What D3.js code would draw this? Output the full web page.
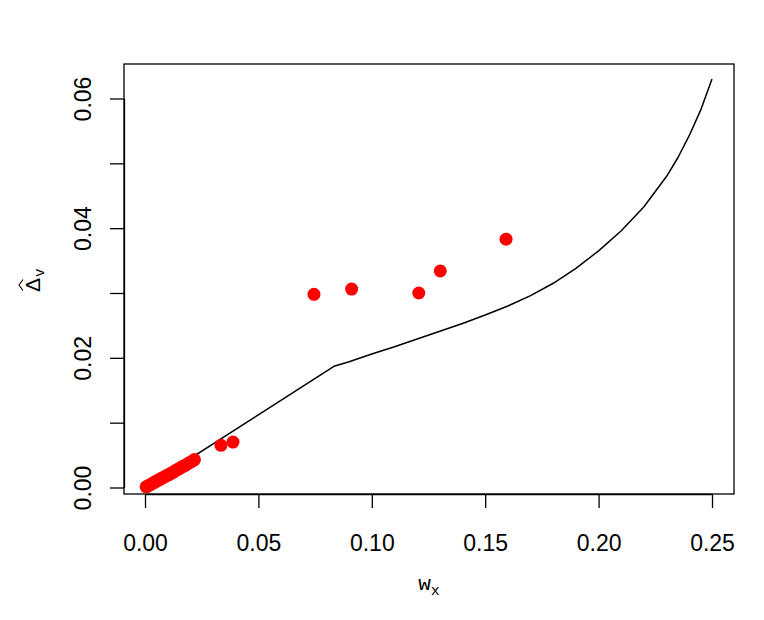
<!DOCTYPE html>
<html><head><meta charset="utf-8">
<script src="https://cdn.jsdelivr.net/npm/d3@7"></script>
<style>body{margin:0;background:#fff}svg{display:block}</style>
</head><body>
<svg id="chart" width="764" height="620"></svg>
<script>
// Data
const xTicks = [0.00, 0.05, 0.10, 0.15, 0.20, 0.25];
const xTickLabels = ["0.00", "0.05", "0.10", "0.15", "0.20", "0.25"];
const yTicks = [0.00, 0.01, 0.02, 0.03, 0.04, 0.05, 0.06];
const yTickLabels = ["0.00", "", "0.02", "", "0.04", "", "0.06"];

// Curve (black line): straight up to the kink, then convex
const curveX = [0.000, 0.0833, 0.090, 0.100, 0.110, 0.120, 0.130, 0.140, 0.150, 0.160, 0.170,
                0.180, 0.190, 0.200, 0.210, 0.220, 0.230, 0.235, 0.240, 0.245, 0.250];
const curveY = [0.000, 0.0187, 0.0194, 0.0206, 0.0217, 0.0229, 0.0241, 0.0253, 0.0266, 0.0280, 0.0296,
                0.0315, 0.0338, 0.0365, 0.0396, 0.0433, 0.0480, 0.0509, 0.0543, 0.0582, 0.0630];

// Red points
const pointX = [0.0005, 0.0012, 0.0020, 0.0028, 0.0035, 0.0043, 0.0050, 0.0058, 0.0066, 0.0074,
                0.0082, 0.0090, 0.0098, 0.0106, 0.0114, 0.0122, 0.0130, 0.0138, 0.0146, 0.0155,
                0.0163, 0.0172, 0.0181, 0.0190, 0.0200, 0.0210, 0.0218,
                0.0335, 0.0388, 0.0745, 0.0911, 0.1207, 0.1302, 0.1592];
const pointY = [0.0001, 0.0002, 0.0004, 0.0005, 0.0007, 0.0008, 0.0010, 0.0011, 0.0013, 0.0014,
                0.0016, 0.0017, 0.0019, 0.0020, 0.0022, 0.0023, 0.0025, 0.0027, 0.0028, 0.0030,
                0.0032, 0.0033, 0.0035, 0.0037, 0.0039, 0.0041, 0.0043,
                0.0065, 0.0070, 0.0298, 0.0306, 0.0300, 0.0334, 0.0383];

const svg = d3.select("#chart");
const box = {left: 124, right: 734, top: 64, bottom: 494};

const x = d3.scaleLinear().domain([0, 0.25]).range([145, 712]);
const y = d3.scaleLinear().domain([0, 0.06]).range([487.5, 98.5]);

const fontFam = "'Liberation Sans', Arial, Helvetica, sans-serif";
const monoFam = "'Liberation Mono', 'DejaVu Sans Mono', monospace";
const fs = 23;

// Plot box
svg.append("rect")
  .attr("x", box.left).attr("y", box.top)
  .attr("width", box.right - box.left).attr("height", box.bottom - box.top)
  .attr("fill", "none").attr("stroke", "#000").attr("stroke-width", 1.3);

// X axis
const xAxis = d3.axisBottom(x).tickValues(xTicks)
  .tickFormat((d, i) => xTickLabels[i]).tickSize(14).tickPadding(27).tickSizeOuter(0);
const gx = svg.append("g").attr("transform", `translate(0,${box.bottom})`).call(xAxis);
gx.select(".domain").attr("stroke-width", 1.3);
gx.selectAll(".tick line").attr("stroke-width", 1.3);
gx.selectAll("text").attr("font-family", fontFam).attr("font-size", fs).attr("fill", "#000");

// Y axis
const yAxis = d3.axisLeft(y).tickValues(yTicks)
  .tickFormat((d, i) => yTickLabels[i]).tickSize(14).tickPadding(0).tickSizeOuter(0);
const gy = svg.append("g").attr("transform", `translate(${box.left},0)`).call(yAxis);
gy.select(".domain").attr("stroke-width", 1.3);
gy.selectAll(".tick line").attr("stroke-width", 1.3);
gy.selectAll("text")
  .attr("font-family", fontFam).attr("font-size", fs).attr("fill", "#000")
  .attr("text-anchor", "middle")
  .attr("x", 0).attr("dy", 0)
  .attr("transform", "translate(-33,0) rotate(-90)");

// Curve
const line = d3.line().x((d, i) => x(curveX[i])).y((d, i) => y(curveY[i])).curve(d3.curveLinear);
svg.append("path").datum(curveX)
  .attr("d", line).attr("fill", "none").attr("stroke", "#000")
  .attr("stroke-width", 1.5).attr("stroke-linejoin", "round");

// Points
svg.append("g").selectAll("circle").data(pointX).join("circle")
  .attr("cx", (d) => x(d)).attr("cy", (d, i) => y(pointY[i]))
  .attr("r", 6.5).attr("fill", "#ff0000");

// X label: w_x
const xl = svg.append("text").attr("x", 429).attr("y", 590)
  .attr("text-anchor", "middle").attr("font-family", monoFam)
  .attr("font-size", 21).attr("fill", "#000");
xl.append("tspan").text("w");
xl.append("tspan").attr("dy", 5).attr("font-size", 15).text("x");

// Y label: hat Delta_v
const yg = svg.append("g").attr("transform", "translate(40,292) rotate(-90)");
yg.append("text").attr("x", 0).attr("y", 0)
  .attr("font-family", fontFam).attr("font-size", 21).attr("fill", "#000").text("\u0394");
yg.append("path").attr("d", "M1.5,-17 L7,-21 L12.5,-17")
  .attr("fill", "none").attr("stroke", "#000").attr("stroke-width", 1.1);
yg.append("text").attr("x", 15).attr("y", 4)
  .attr("font-family", monoFam).attr("font-size", 14).attr("fill", "#000").text("v");
</script>
</body></html>
